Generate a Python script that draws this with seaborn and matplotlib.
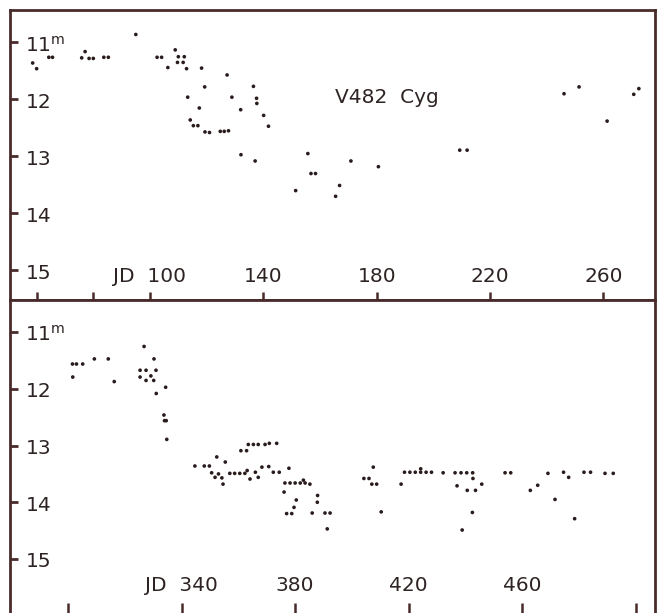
import matplotlib
matplotlib.use("Agg")
import matplotlib.pyplot as plt
import matplotlib.transforms as mtransforms
import seaborn as sns
import pandas as pd

# ---------------- data ----------------
top_jd = [58.6, 60.0, 64.3, 65.6, 75.9, 77.1, 78.5, 80.0, 83.7, 85.3, 95.0,
          102.5, 104.1, 106.3, 108.9, 109.7, 110.0, 111.7, 112.1, 112.9, 113.3,
          114.2, 115.3, 116.9, 117.4, 118.2, 119.3, 119.4, 121.0, 124.8, 126.2,
          127.2, 127.7, 128.9, 132.0, 132.1, 136.5, 137.1, 137.6, 137.7, 140.1,
          141.8, 151.4, 155.7, 156.8, 158.4, 165.5, 166.9, 170.9, 180.6, 209.3,
          211.9, 246.1, 251.4, 261.3, 270.7, 272.5]
top_mag = [11.36, 11.46, 11.26, 11.26, 11.27, 11.16, 11.28, 11.28, 11.26, 11.26, 10.86,
           11.26, 11.26, 11.44, 11.13, 11.35, 11.25, 11.35, 11.25, 11.46, 11.96,
           12.36, 12.46, 12.46, 12.15, 11.45, 11.78, 12.57, 12.58, 12.56, 12.56,
           11.57, 12.55, 11.96, 12.18, 12.97, 11.77, 13.08, 11.98, 12.07, 12.28,
           12.47, 13.60, 12.95, 13.30, 13.30, 13.70, 13.51, 13.08, 13.18, 12.89,
           12.89, 11.90, 11.78, 12.38, 11.91, 11.81]

bot_jd = [301.7, 301.6, 303.0, 305.2, 309.3, 314.2, 316.3, 326.8, 330.3, 325.4,
          327.5, 331.0, 325.4, 329.2, 327.5, 330.2, 331.1, 334.4, 333.8, 334.0,
          334.6, 334.8,
          344.7, 348.0, 349.8, 352.4, 355.4, 350.6, 351.8, 353.0, 354.2, 354.6,
          357.0, 358.7, 360.5, 362.3, 363.1, 364.1, 366.0, 367.0, 368.3, 370.7,
          372.3, 374.4, 377.8, 360.9, 362.9, 363.5, 365.3, 367.0, 369.4, 370.9,
          373.5,
          376.4, 378.2, 380.0, 381.8, 383.5, 382.9, 385.2, 376.1, 380.4, 379.6,
          377.0, 378.8, 386.0, 387.9, 387.8, 390.5, 392.3, 391.3,
          404.2, 406.0, 407.5, 407.0, 408.7, 410.3, 417.3,
          418.5, 420.4, 422.3, 424.2, 426.1, 428.0, 424.2, 432.1,
          436.3, 438.4, 440.4, 442.5, 442.6, 437.0, 440.6, 443.5, 445.7, 442.4,
          438.8, 453.9, 455.9, 462.8, 465.4, 469.0, 471.5, 474.5, 476.3, 478.4,
          481.7, 484.0, 489.1, 492.0]
bot_mag = [11.79, 11.56, 11.56, 11.56, 11.47, 11.47, 11.87, 11.25, 11.47, 11.67,
           11.67, 11.67, 11.79, 11.77, 11.85, 11.85, 12.08, 11.97, 12.46, 12.56,
           12.56, 12.89,
           13.36, 13.36, 13.36, 13.20, 13.29, 13.48, 13.56, 13.50, 13.57, 13.68,
           13.49, 13.49, 13.49, 13.49, 13.44, 13.59, 13.47, 13.56, 13.38, 13.37,
           13.47, 13.47, 13.40, 13.09, 13.09, 12.98, 12.98, 12.98, 12.98, 12.96,
           12.96,
           13.66, 13.66, 13.66, 13.66, 13.66, 13.61, 13.68, 13.82, 13.96, 14.09,
           14.20, 14.20, 14.19, 13.88, 14.00, 14.19, 14.19, 14.47,
           13.58, 13.58, 13.38, 13.68, 13.68, 14.17, 13.68,
           13.47, 13.47, 13.47, 13.47, 13.47, 13.47, 13.41, 13.48,
           13.48, 13.48, 13.48, 13.48, 13.58, 13.71, 13.79, 13.79, 13.68, 14.18,
           14.49, 13.48, 13.48, 13.79, 13.70, 13.49, 13.95, 13.47, 13.56, 14.29,
           13.47, 13.47, 13.49, 13.49]

mag_ticks = [11, 12, 13, 14, 15]
mag_labels = ["11$^\\mathregular{m}$", "12", "13", "14", "15"]

top_xticks = [60, 80, 100, 140, 180, 220, 260]
top_xlabel_pos = [100, 140, 180, 220, 260]
top_xlabels = ["JD  100", "140", "180", "220", "260"]

bot_xticks = [300, 340, 380, 420, 460, 500]
bot_xlabel_pos = [340, 380, 420, 460]
bot_xlabels = ["JD  340", "380", "420", "460"]

star_name = "V482  Cyg"

# ---------------- style ----------------
sns.set_theme(style="white")
plt.rcParams["font.family"] = ["DejaVu Sans"]
plt.rcParams["mathtext.default"] = "regular"
plt.rcParams["xtick.bottom"] = True
plt.rcParams["ytick.left"] = True
plt.rcParams["xtick.direction"] = "in"
plt.rcParams["ytick.direction"] = "in"

FRAME = "#4a2b2b"
TEXT = "#2e2323"
DOT = "#2a1c1c"
FS = 14.5

W, H = 658, 613
fig = plt.figure(figsize=(W / 100, H / 100), dpi=100)
fig.patch.set_facecolor("white")

ax1 = fig.add_axes([10 / W, 313 / H, 645 / W, 290 / H])
ax2 = fig.add_axes([10 / W, -2 / H, 645 / W, 315 / H])

top_df = pd.DataFrame({"jd": top_jd, "mag": top_mag})
bot_df = pd.DataFrame({"jd": bot_jd, "mag": bot_mag})

for ax, df in ((ax1, top_df), (ax2, bot_df)):
    sns.scatterplot(data=df, x="jd", y="mag", ax=ax, color=DOT, s=7,
                    linewidth=0, edgecolor="none", legend=False)
    ax.set_xlabel("")
    ax.set_ylabel("")
    ax.set_facecolor("white")
    for sp in ax.spines.values():
        sp.set_color(FRAME)
        sp.set_linewidth(2.0)
        sp.set_visible(True)
    ax.set_yticks(mag_ticks)
    ax.set_yticklabels([])
    ax.tick_params(axis="y", which="major", direction="in", length=6, width=2.0,
                   color=FRAME, left=True, right=False, labelleft=False)
    # y labels placed inside the frame
    trans = mtransforms.blended_transform_factory(ax.transAxes, ax.transData)
    for m, lab in zip(mag_ticks, mag_labels):
        ax.text(0.024, m + 0.05, lab, transform=trans, ha="left", va="center",
                fontsize=FS, color=TEXT)

ax1.set_xlim(50.6, 278.2)
ax1.set_ylim(15.52, 10.43)
ax2.set_xlim(279.6, 506.7)
ax2.set_ylim(15.99, 10.43)

ax1.set_xticks(top_xticks)
ax1.set_xticklabels([])
ax1.tick_params(axis="x", direction="in", length=6, width=1.8, color=FRAME,
                bottom=True, top=False, labelbottom=False)
ax2.set_xticks(bot_xticks)
ax2.set_xticklabels([])
ax2.tick_params(axis="x", direction="in", length=9, width=1.8, color=FRAME,
                bottom=True, top=False, labelbottom=False)

for x, lab in zip(top_xlabel_pos, top_xlabels):
    ax1.text(x, 15.11, lab, ha="center", va="center", fontsize=FS, color=TEXT)
for x, lab in zip(bot_xlabel_pos, bot_xlabels):
    ax2.text(x, 15.47, lab, ha="center", va="center", fontsize=FS, color=TEXT)

ax1.text(165.2, 11.97, star_name, ha="left", va="center", fontsize=FS, color=TEXT)

fig.savefig("out.png", dpi=100, facecolor="white")
